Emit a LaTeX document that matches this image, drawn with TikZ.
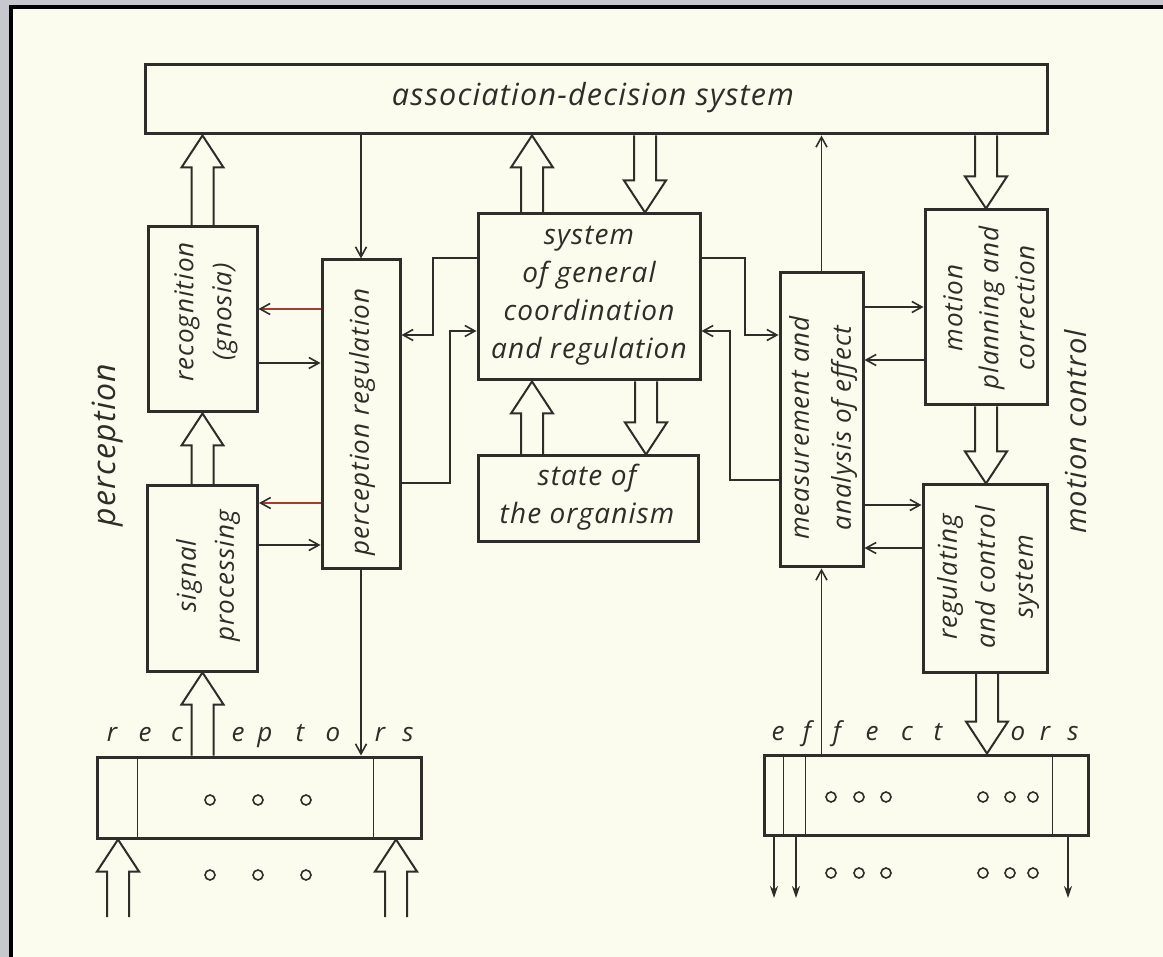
\documentclass[tikz,border=0pt]{standalone}
\usepackage{fontspec}
\setmainfont{Open Sans}[LetterSpace=4]
\usetikzlibrary{arrows.meta, calc}

\definecolor{ink}{RGB}{45,45,42}
\definecolor{paper}{RGB}{252,252,238}
\definecolor{redink}{RGB}{165,62,50}
\definecolor{marble}{RGB}{198,200,206}

\newcommand\lbl{\fontsize{28pt}{38pt}\selectfont\itshape}
\newcommand\vlbl{\fontsize{26pt}{38pt}\selectfont\itshape}

\tikzset{
  box/.style={draw=ink, line width=3pt, inner sep=0pt},
  txt/.style={font=\lbl, text=ink, align=center, inner sep=0pt},
  vtxt/.style={txt, font=\vlbl, rotate=90},
  link/.style={draw=ink, line width=1.6pt, -{Straight Barb[length=10pt, width=11pt]}},
  outlink/.style={draw=ink, line width=1.6pt, -{Stealth[length=12pt, width=8pt]}},
  fat/.style={draw=ink, line width=2pt, line join=miter},
  dot/.style={draw=ink, line width=1.6pt},
}

% hollow arrow from tail #1 to tip #2 (vertical)
\newcommand\fatarrow[2]{%
  \draw[fat] let \p1=#1, \p2=#2, \p3=($#2!32pt!#1$) in
    (\x1-11pt,\y1) -- (\x1-11pt,\y3) -- (\x1-21pt,\y3) -- (\x2,\y2)
    -- (\x1+21pt,\y3) -- (\x1+11pt,\y3) -- (\x1+11pt,\y1);}

\begin{document}
\begin{tikzpicture}[x=1pt, y=-1pt]
% sheet
\useasboundingbox (0,0) rectangle (1163,957);
\fill[marble] (0,0) rectangle (1163,957);
\fill[black] (9,5) rectangle (1163,957);
\fill[paper] (13,9) rectangle (1163,957);

% blocks
\node[box, minimum width=902pt, minimum height=69pt] (ads) at (596,99.5) {};
\node[box, minimum width=109pt, minimum height=185pt] (rec) at (202.5,319.5) {};
\node[box, minimum width=110pt, minimum height=185pt] (sig) at (202.5,578.5) {};
\node[box, minimum width=78pt, minimum height=309pt] (preg) at (361,414.5) {};
\node[box, minimum width=222pt, minimum height=166pt] (sgc) at (589,297) {};
\node[box, minimum width=220pt, minimum height=86pt] (sto) at (588,499) {};
\node[box, minimum width=83pt, minimum height=294pt] (mae) at (821.5,420) {};
\node[box, minimum width=122pt, minimum height=195pt] (mpc) at (986,307.5) {};
\node[box, minimum width=124pt, minimum height=187pt] (rcs) at (985,578.5) {};
\node[box, minimum width=324pt, minimum height=81pt] (recp) at (259,797.5) {};
\node[box, minimum width=324pt, minimum height=80pt] (eff) at (926,795) {};

% labels
\node[txt, font=\fontsize{30.5pt}{38pt}\selectfont\itshape] (ads-t) at (593,98) {association-decision system};
\node[vtxt] (rec-t) at (206,312) {recognition\\(gnosia)};
\node[vtxt] (sig-t) at (208,576) {signal\\processing};
\node[vtxt] (preg-t) at (362,422) {perception regulation};
\node[txt] (sgc-t) at (589,296) {system\\of general\\coordination\\and regulation};
\node[txt] (sto-t) at (587,497) {state of\\the organism};
\node[vtxt, font=\fontsize{26pt}{42pt}\selectfont\itshape] (mae-t) at (823,428) {measurement and\\analysis of effect};
\node[vtxt, font=\fontsize{26pt}{36pt}\selectfont\itshape] (mpc-t) at (989,308) {motion\\planning and\\correction};
\node[vtxt] (rcs-t) at (988,577) {regulating\\and control\\system};
\node[vtxt, font=\fontsize{32pt}{34pt}\selectfont\itshape] (perc-t) at (108,445) {perception};
\node[vtxt, font=\fontsize{29pt}{34pt}\selectfont\itshape] (motc-t) at (1076,432) {motion control};

% receptor and effector rows
\foreach \ch/\x in {r/112,e/145,c/177,e/238,p/265,t/300,o/333,r/380,s/408}
  \node[txt, font=\vlbl, anchor=base] (rc-\x) at (\x,741) {\ch};
\foreach \ch/\x in {e/778,f/807,f/837,e/872,c/907,t/938,o/1018,r/1045,s/1073}
  \node[txt, font=\vlbl, anchor=base] (ef-\x) at (\x,740) {\ch};
\draw[ink, line width=1.6pt] (recp.north west) ++(42,0) -- ++(0,81)
  (recp.north west) ++(278,0) -- ++(0,81);
\draw[ink, line width=1.6pt] (eff.north west) ++(21,0) -- ++(0,80)
  (eff.north west) ++(43,0) -- ++(0,80)
  (eff.north west) ++(290,0) -- ++(0,80);
\foreach \x in {210,258,306}
  \foreach \y in {800,875}
    \draw[dot] (\x,\y) circle[radius=5pt];
\foreach \x in {831,859,886,983,1010,1033}
  \foreach \y in {797,873}
    \draw[dot] (\x,\y) circle[radius=5pt];

% hollow arrows
\coordinate (in1) at (118,917);
\coordinate (in2) at (396,917);
\fatarrow{(in1)}{(in1 |- recp.south)}
\fatarrow{(in2)}{(in2 |- recp.south)}
\fatarrow{(sig.north |- recp.north)}{(sig.south)}
\fatarrow{(sig.north)}{(sig.north |- rec.south)}
\fatarrow{(rec.north)}{(rec.north |- ads.south)}
\fatarrow{(532,0 |- sgc.north)}{(532,0 |- ads.south)}
\fatarrow{(645,0 |- ads.south)}{(645,0 |- sgc.north)}
\fatarrow{(532,0 |- sto.north)}{(532,0 |- sgc.south)}
\fatarrow{(646,0 |- sgc.south)}{(646,0 |- sto.north)}
\fatarrow{(mpc.north |- ads.south)}{(mpc.north)}
\fatarrow{(mpc.south)}{(mpc.south |- rcs.north)}
\fatarrow{(987,0 |- rcs.south)}{(987,0 |- eff.north)}

% thin links
\draw[link] (preg.north |- ads.south) -- (preg.north);
\draw[link] (preg.south) -- (preg.south |- recp.north);
\draw[link] (mae.north) -- (mae.north |- ads.south);
\draw[link] (mae.south |- eff.north) -- (mae.south);
\draw[link, draw=redink, -{Straight Barb[length=10pt, width=11pt, color=ink]}] (preg.west |- 0,309) -- (rec.east |- 0,309);
\draw[link] (rec.east |- 0,363) -- (preg.west |- 0,363);
\draw[link, draw=redink, -{Straight Barb[length=10pt, width=11pt, color=ink]}] (preg.west |- 0,503) -- (sig.east |- 0,503);
\draw[link] (sig.east |- 0,545) -- (preg.west |- 0,545);
\draw[link] (sgc.west |- 0,258) -| (433,335) -- (preg.east |- 0,335);
\draw[link] (preg.east |- 0,483) -| (450,331) -- (sgc.west |- 0,331);
\draw[link] (sgc.east |- 0,258) -| (745,335) -- (mae.west |- 0,335);
\draw[link] (mae.west |- 0,480) -| (730,331) -- (sgc.east |- 0,331);
\draw[link] (mae.east |- 0,307) -- (mpc.west |- 0,307);
\draw[link] (mpc.west |- 0,360) -- (mae.east |- 0,360);
\draw[link] (mae.east |- 0,505) -- (rcs.west |- 0,505);
\draw[link] (rcs.west |- 0,548) -- (mae.east |- 0,548);

% effector outputs
\coordinate (out1) at (774,898);
\coordinate (out2) at (796,898);
\coordinate (out3) at (1068,898);
\foreach \o in {out1,out2,out3}
  \draw[outlink] (\o |- eff.south) -- (\o);
\end{tikzpicture}
\end{document}
